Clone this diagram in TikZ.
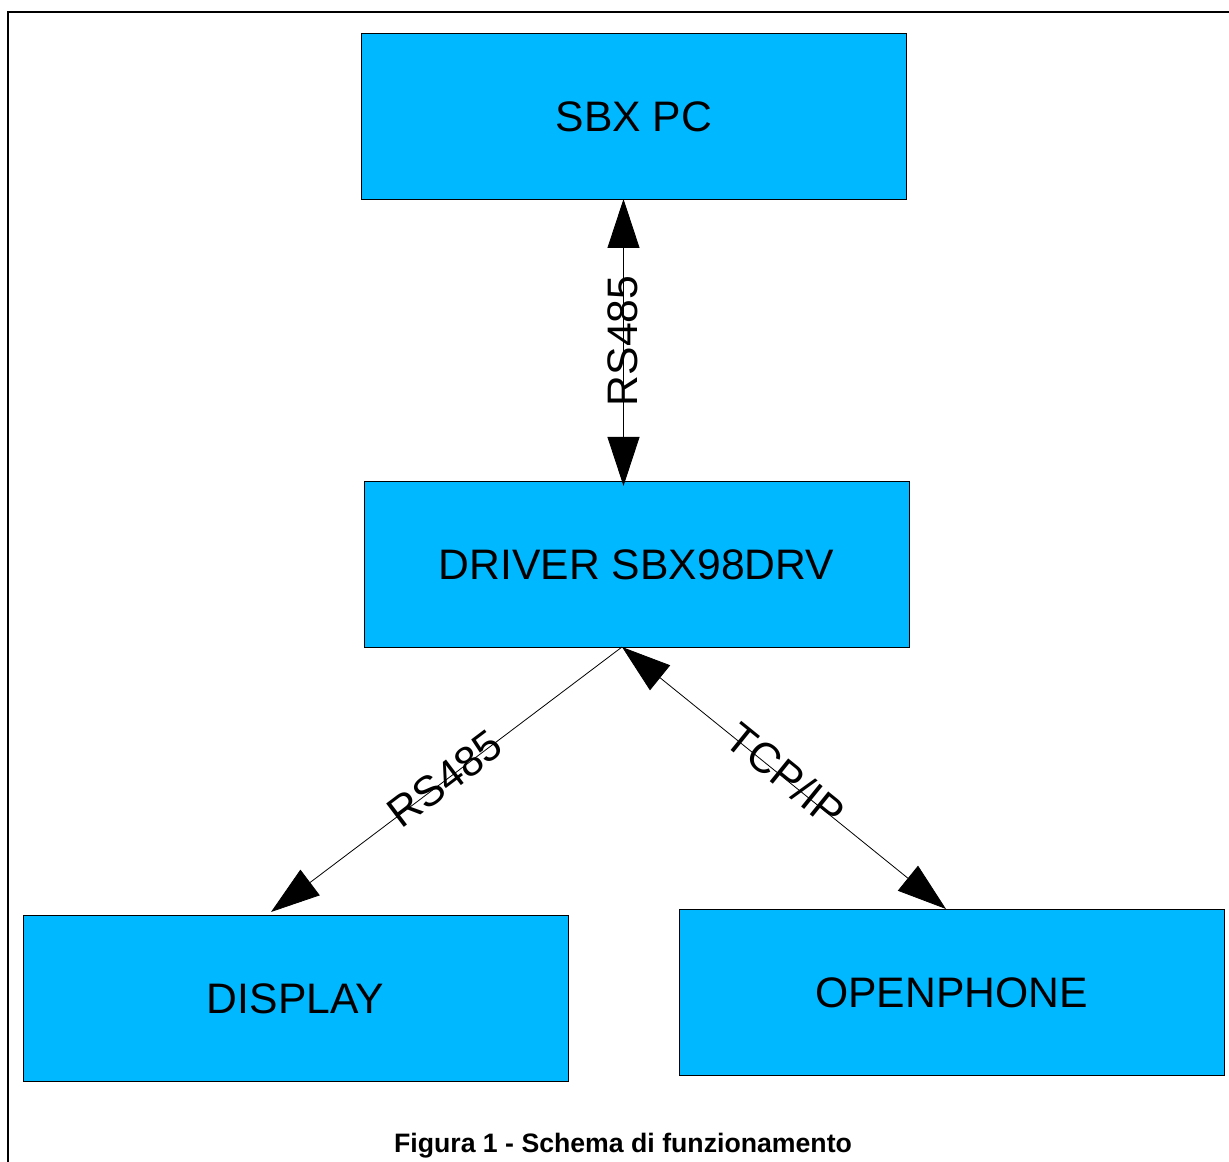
\documentclass[tikz,border=0pt]{standalone}
\usepackage{fontspec}
\setmainfont{Liberation Sans}
\usetikzlibrary{arrows.meta}
\definecolor{boxblue}{RGB}{0,184,255}
\tikzset{
 bx/.style={draw=black,line width=0.6pt,fill=boxblue,minimum width=408.75pt,minimum height=124.5pt,inner sep=0pt,text=black},
 lnk/.style={line width=0.6pt,draw=black},
 lbl/.style={font=\fontsize{32}{32}\selectfont,inner sep=0pt,text=black},
}
\begin{document}
\begin{tikzpicture}[x=0.75pt,y=-0.75pt]
\useasboundingbox (0,0) rectangle (1229,1162);
\coordinate (fa) at (8,1162);
\coordinate (fb) at (8,12.5);
\coordinate (fc) at (1229,12.5);
\draw[line width=1.5pt] (fa) -- (fb) -- (fc);
\node[bx] (pc) at (634,116.5) {};
\node[bx] (drv) at (636.5,564) {};
\node[bx] (dsp) at (295.5,998.5) {};
\node[bx] (oph) at (951.5,992.5) {};
\node[lbl] (tpc) at (634,116.5) {SBX PC};
\node[lbl] (tdrv) at (636.5,564.5) {DRIVER SBX98DRV};
\node[lbl] (tdsp) at (295.5,998.5) {DISPLAY};
\node[lbl] (toph) at (951.5,992.5) {OPENPHONE};
\coordinate (a1) at (623.5,199);
\coordinate (a2) at (623.5,486);
\coordinate (b0) at (622,647);
\coordinate (b1) at (271,912);
\coordinate (c1) at (946,909);
\draw[lnk,{Triangle[length=36.75pt,width=24pt]}-{Triangle[length=36.75pt,width=24pt]}] (a1) -- (a2);
\draw[lnk,-{Triangle[length=36.75pt,width=24pt]}] (b0) -- (b1);
\draw[lnk,{Triangle[length=36.75pt,width=24pt]}-{Triangle[length=36.75pt,width=24pt]}] (b0) -- (c1);
\node[lbl,rotate=90] (r1) at (622.5,341) {RS485};
\node[lbl,rotate=37] (r2) at (445,779) {RS485};
\node[lbl,rotate=-39] (r3) at (786,775) {TCP/IP};
\node[font=\bfseries\fontsize{20}{20}\selectfont,inner sep=0pt] (cap) at (623,1145.5) {Figura 1 - Schema di funzionamento};
\end{tikzpicture}
\end{document}
